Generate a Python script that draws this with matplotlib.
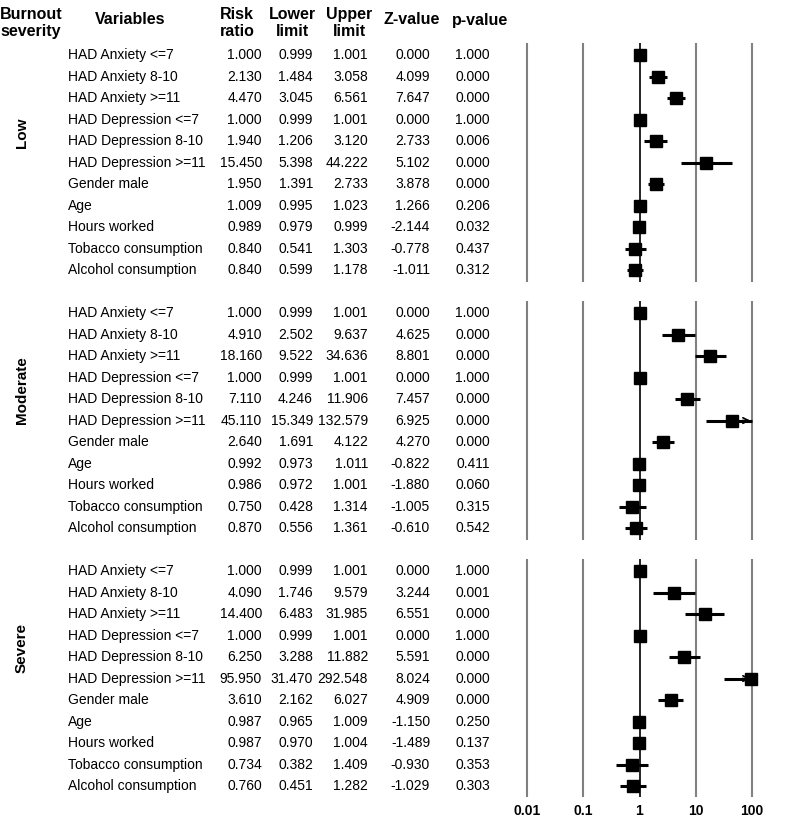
import numpy as np
import matplotlib
matplotlib.use("Agg")
import matplotlib.pyplot as plt
import matplotlib.transforms as mtransforms

plt.rcParams['font.family'] = ['Liberation Sans', 'DejaVu Sans']

groups = ['Low', 'Moderate', 'Severe']
variables = ['HAD Anxiety <=7', 'HAD Anxiety 8-10', 'HAD Anxiety >=11',
             'HAD Depression <=7', 'HAD Depression 8-10', 'HAD Depression >=11',
             'Gender male', 'Age', 'Hours worked', 'Tobacco consumption',
             'Alcohol consumption']

risk_ratio = [
    [1.000, 2.130, 4.470, 1.000, 1.940, 15.450, 1.950, 1.009, 0.989, 0.840, 0.840],
    [1.000, 4.910, 18.160, 1.000, 7.110, 45.110, 2.640, 0.992, 0.986, 0.750, 0.870],
    [1.000, 4.090, 14.400, 1.000, 6.250, 95.950, 3.610, 0.987, 0.987, 0.734, 0.760],
]
lower = [
    [0.999, 1.484, 3.045, 0.999, 1.206, 5.398, 1.391, 0.995, 0.979, 0.541, 0.599],
    [0.999, 2.502, 9.522, 0.999, 4.246, 15.349, 1.691, 0.973, 0.972, 0.428, 0.556],
    [0.999, 1.746, 6.483, 0.999, 3.288, 31.470, 2.162, 0.965, 0.970, 0.382, 0.451],
]
upper = [
    [1.001, 3.058, 6.561, 1.001, 3.120, 44.222, 2.733, 1.023, 0.999, 1.303, 1.178],
    [1.001, 9.637, 34.636, 1.001, 11.906, 132.579, 4.122, 1.011, 1.001, 1.314, 1.361],
    [1.001, 9.579, 31.985, 1.001, 11.882, 292.548, 6.027, 1.009, 1.004, 1.409, 1.282],
]
z_value = [
    [0.000, 4.099, 7.647, 0.000, 2.733, 5.102, 3.878, 1.266, -2.144, -0.778, -1.011],
    [0.000, 4.625, 8.801, 0.000, 7.457, 6.925, 4.270, -0.822, -1.880, -1.005, -0.610],
    [0.000, 3.244, 6.551, 0.000, 5.591, 8.024, 4.909, -1.150, -1.489, -0.930, -1.029],
]
p_value = [
    [1.000, 0.000, 0.000, 1.000, 0.006, 0.000, 0.000, 0.206, 0.032, 0.437, 0.312],
    [1.000, 0.000, 0.000, 1.000, 0.000, 0.000, 0.000, 0.411, 0.060, 0.315, 0.542],
    [1.000, 0.001, 0.000, 1.000, 0.000, 0.000, 0.000, 0.250, 0.137, 0.353, 0.303],
]
ticks = [0.01, 0.1, 1, 10, 100]
tick_labels = ['0.01', '0.1', '1', '10', '100']

W, H = 787, 826
fig = plt.figure(figsize=(W / 100, H / 100), dpi=100)
ax = fig.add_axes([499 / W, 1 - 797 / H, 281 / W, 754 / H])
ax.set_xscale('log')
ax.set_xlim(10 ** -2.5, 10 ** 2.5)
ax.set_ylim(34.51, -0.56)
for s in ax.spines.values():
    s.set_visible(False)
ax.set_yticks([])
ax.set_xticks(ticks)
ax.set_xticklabels(tick_labels, fontweight='bold', fontsize=10)
ax.tick_params(axis='x', length=0, pad=5)
ax.minorticks_off()

xmax = 100
trans = mtransforms.blended_transform_factory(fig.transFigure, ax.transData)
n = len(variables)

for g, name in enumerate(groups):
    off = g * 12
    y = np.arange(n) + off
    # reference lines
    for t in ticks:
        ax.vlines(t, off - 0.55, off + n - 1 + 0.55,
                  color='black' if t == 1 else '#808080',
                  lw=1.2 if t == 1 else 1.5, zorder=1)
    rr = np.array(risk_ratio[g])
    lo = np.array(lower[g])
    hi = np.array(upper[g])
    ax.hlines(y, lo, np.minimum(hi, xmax), color='black', lw=2.2, zorder=2)
    for yi, h in zip(y, hi):
        if h > xmax:
            ax.annotate('', xy=(xmax * 1.05, yi), xytext=(xmax * 0.6, yi),
                        arrowprops=dict(arrowstyle='->', color='black', lw=1.2),
                        zorder=2)
    ax.plot(rr, y, 's', color='black', ms=9, zorder=3)

    # table
    ax.text(22 / W, off + 3.6, name, transform=trans, fontsize=11,
            fontweight='bold', rotation=90, ha='center', va='center')
    for i in range(n):
        yi = off + i
        ax.text(68 / W, yi, variables[i], transform=trans, fontsize=10,
                ha='left', va='center')
        for x_px, vals in zip([262, 313, 368, 430, 490],
                              [risk_ratio[g], lower[g], upper[g], z_value[g], p_value[g]]):
            ax.text(x_px / W, yi, f'{vals[i]:.3f}', transform=trans,
                    fontsize=10, ha='right', va='center')

# headers
hdr = dict(fontsize=11.5, fontweight='bold', va='center', linespacing=1.2)
fig.text(0 / W, 1 - 23 / H, 'Burnout\nseverity', ha='left', **hdr)
fig.text(130 / W, 1 - 20 / H, 'Variables', ha='center', **hdr)
fig.text(237 / W, 1 - 23 / H, 'Risk\nratio', ha='center', **hdr)
fig.text(292 / W, 1 - 23 / H, 'Lower\nlimit', ha='center', **hdr)
fig.text(349 / W, 1 - 23 / H, 'Upper\nlimit', ha='center', **hdr)
fig.text(412 / W, 1 - 20 / H, 'Z-value', ha='center', **hdr)
fig.text(480 / W, 1 - 20 / H, 'p-value', ha='center', **hdr)

fig.savefig('out.png', dpi=100)
